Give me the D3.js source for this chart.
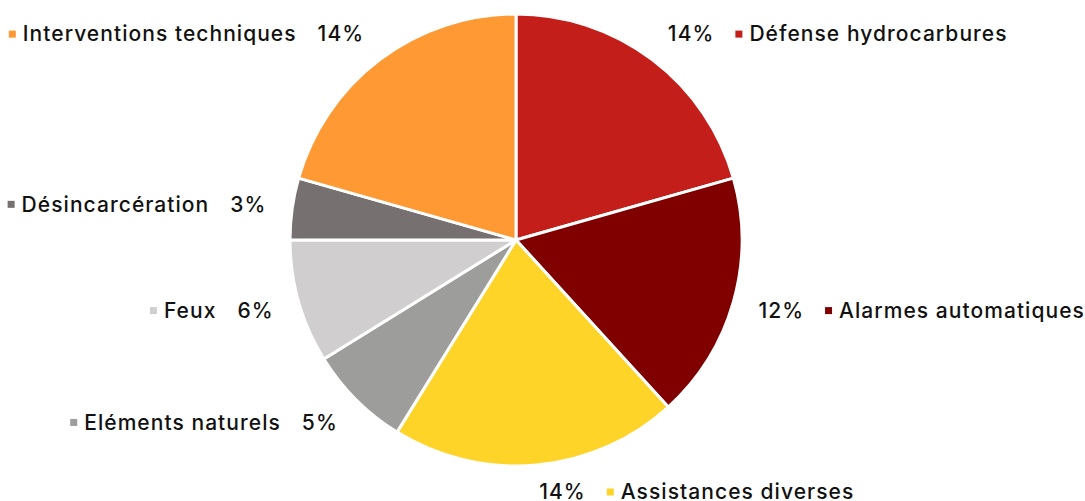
<!DOCTYPE html>
<html>
<head>
<meta charset="utf-8">
<script src="https://cdn.jsdelivr.net/npm/d3@7"></script>
<style>
  body { margin: 0; background: #fff; }
  text { font-family: "Inter", "Noto Sans", sans-serif; fill: #111; font-weight: 500; letter-spacing: 1.05px; }
</style>
</head>
<body>
<div class="chart"></div>
<script>
// data
const categories = ["Défense hydrocarbures", "Alarmes automatiques", "Assistances diverses",
    "Eléments naturels", "Feux", "Désincarcération", "Interventions techniques"];
const values = [14, 12, 14, 5, 6, 3, 14];
const colors = ["#C41E1A", "#800000", "#FDD427", "#9D9D9B", "#D0CECE", "#767170", "#FF9933"];

const width = 1085, height = 501;
const cx = 516, cy = 240, radius = 226;
const labelRx = 252, labelRy = 258, maxDown = 252;
const fontSize = 21, gap = 21, sq = 7, sqGap = 7;

let svg = d3.select(".chart").append("svg")
    .attr("width", width)
    .attr("height", height);

let g = svg.append("g")
    .attr("transform", `translate(${cx},${cy})`);

const data = categories.map((c, i) => ({ name: c, value: values[i], color: colors[i] }));

const pie = d3.pie()
    .sort(null)
    .value(d => d.value);

const arc = d3.arc()
    .innerRadius(0)
    .outerRadius(radius);

const arcs = pie(data);

g.selectAll("path.slice")
    .data(arcs)
    .join("path")
    .attr("class", "slice")
    .attr("d", arc)
    .attr("fill", d => d.data.color)
    .attr("stroke", "#fff")
    .attr("stroke-width", 3)
    .attr("stroke-linejoin", "round");

// labels: percentage + legend square + name
arcs.forEach(a => {
    const mid = (a.startAngle + a.endAngle) / 2;
    const x = Math.sin(mid) * labelRx;
    const y = Math.min(-Math.cos(mid) * labelRy, maxDown);
    const right = Math.sin(mid) > 0;
    const lg = g.append("g").attr("transform", `translate(${x},${y})`);

    const pct = lg.append("text")
        .attr("font-size", fontSize)
        .attr("dy", "0.35em")
        .text(a.data.value + "%");
    const name = lg.append("text")
        .attr("font-size", fontSize)
        .attr("dy", "0.35em")
        .text(a.data.name);
    const pw = pct.node().getComputedTextLength();
    const nw = name.node().getComputedTextLength();

    if (right) {
        pct.attr("x", 0);
        const sx = pw + gap;
        lg.append("rect").attr("x", sx).attr("y", -sq / 2).attr("width", sq).attr("height", sq)
            .attr("fill", a.data.color);
        name.attr("x", sx + sq + sqGap);
    } else {
        pct.attr("x", -pw);
        const nx = -pw - gap - nw;
        name.attr("x", nx);
        lg.append("rect").attr("x", nx - sqGap - sq).attr("y", -sq / 2).attr("width", sq).attr("height", sq)
            .attr("fill", a.data.color);
    }
});
</script>
</body>
</html>
